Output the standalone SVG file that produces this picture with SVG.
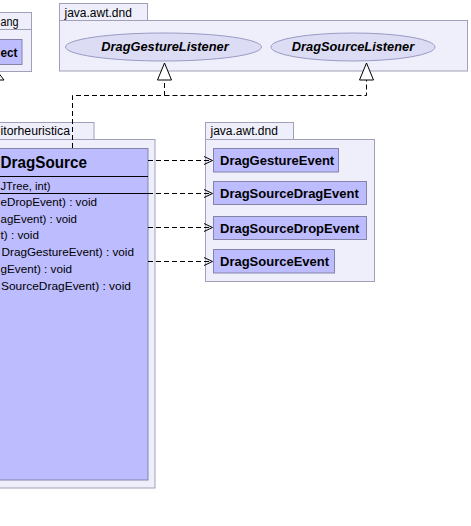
<svg xmlns="http://www.w3.org/2000/svg" width="471" height="526" viewBox="0 0 471 526">
<style>
.pkg{fill:#efeffc;stroke:#a0a0b8;stroke-width:1}
.cls{fill:#bcbcff;stroke:#8484a8;stroke-width:1}
.ell{fill:#dcdcf4;stroke:#9a9ac4;stroke-width:1}
.ptxt{font-family:"Liberation Sans",Arial,sans-serif;font-size:12px;fill:#000}
.ctxt{font-family:"Liberation Sans",Arial,sans-serif;font-size:13px;font-weight:bold;fill:#000}
.itxt{font-family:"Liberation Sans",Arial,sans-serif;font-size:12.8px;font-weight:bold;font-style:italic;fill:#000}
.mtxt{font-family:"Liberation Sans",Arial,sans-serif;font-size:11.8px;fill:#000}
.dash{fill:none;stroke:#000;stroke-width:1;stroke-dasharray:5,3}
.head{fill:none;stroke:#000;stroke-width:1}
.tri{fill:#fff;stroke:#000;stroke-width:1}
</style>
<rect width="471" height="526" fill="#fff"/>

<g id="pkg-java-lang">
<rect class="pkg" x="-5" y="12.5" width="36.5" height="17"/>
<rect class="pkg" x="-5" y="29.5" width="36.5" height="42"/>
<text class="ptxt" x="0.5" y="26" textLength="18" lengthAdjust="spacingAndGlyphs">ang</text>
</g>
<g id="Object">
<rect class="cls" x="-5" y="39.5" width="27" height="25"/>
<text class="ctxt" x="0.5" y="56.5" textLength="17" lengthAdjust="spacingAndGlyphs">ect</text>
</g>

<g id="pkg-java-awt-dnd-top">
<rect class="pkg" x="59.5" y="3.5" width="88" height="17"/>
<rect class="pkg" x="59.5" y="20.5" width="408" height="50.5"/>
<text class="ptxt" x="64.5" y="17">java.awt.dnd</text>
</g>
<g id="DragGestureListener">
<ellipse class="ell" cx="163.5" cy="47" rx="98" ry="14"/>
<text class="itxt" x="165" y="51" text-anchor="middle">DragGestureListener</text>
</g>
<g id="DragSourceListener">
<ellipse class="ell" cx="353" cy="47" rx="82" ry="14"/>
<text class="itxt" x="353" y="51" text-anchor="middle">DragSourceListener</text>
</g>

<g id="pkg-editorheuristica">
<rect class="pkg" x="-5" y="122.5" width="99" height="17"/>
<rect class="pkg" x="-5" y="139.5" width="160" height="348.5"/>
<text class="ptxt" x="0.5" y="135" textLength="69.5" lengthAdjust="spacingAndGlyphs">itorheuristica</text>
</g>
<g id="DragSource">
<rect class="cls" x="-5" y="148.5" width="153" height="331.5"/>
<text class="ctxt" style="font-size:15.6px" x="0.5" y="168" textLength="86.5" lengthAdjust="spacingAndGlyphs">DragSource</text>
<line x1="-5" y1="176.5" x2="148" y2="176.5" stroke="#000"/>
<text class="mtxt" x="0.5" y="190" textLength="50" lengthAdjust="spacingAndGlyphs">JTree, int)</text>
<line x1="-5" y1="193.5" x2="148" y2="193.5" stroke="#000"/>
<text class="mtxt" x="0.5" y="206" textLength="96.5" lengthAdjust="spacingAndGlyphs">eDropEvent) : void</text>
<text class="mtxt" x="0.5" y="223" textLength="76.5" lengthAdjust="spacingAndGlyphs">agEvent) : void</text>
<text class="mtxt" x="0.5" y="239" textLength="38.5" lengthAdjust="spacingAndGlyphs">t) : void</text>
<text class="mtxt" x="1.5" y="256" textLength="132.5" lengthAdjust="spacingAndGlyphs">DragGestureEvent) : void</text>
<text class="mtxt" x="0.5" y="273" textLength="71.5" lengthAdjust="spacingAndGlyphs">gEvent) : void</text>
<text class="mtxt" x="1" y="290" textLength="130" lengthAdjust="spacingAndGlyphs">SourceDragEvent) : void</text>
</g>

<g id="pkg-java-awt-dnd-right">
<rect class="pkg" x="205.5" y="122.5" width="88" height="17"/>
<rect class="pkg" x="205.5" y="139.5" width="169" height="142"/>
<text class="ptxt" x="210.5" y="135">java.awt.dnd</text>
</g>
<g id="DragGestureEvent">
<rect class="cls" x="213.5" y="148.5" width="125" height="23.5"/>
<text class="ctxt" x="220" y="165">DragGestureEvent</text>
</g>
<g id="DragSourceDragEvent">
<rect class="cls" x="213.5" y="181.5" width="153" height="23"/>
<text class="ctxt" x="220" y="198">DragSourceDragEvent</text>
</g>
<g id="DragSourceDropEvent">
<rect class="cls" x="213.5" y="216.5" width="153" height="23"/>
<text class="ctxt" x="220" y="233">DragSourceDropEvent</text>
</g>
<g id="DragSourceEvent">
<rect class="cls" x="213.5" y="249.5" width="121" height="23.5"/>
<text class="ctxt" x="220" y="266">DragSourceEvent</text>
</g>

<g id="connectors">
<polyline class="dash" points="72.5,148 72.5,95.5 164.5,95.5 164.5,80"/>
<polyline class="dash" points="164.5,95.5 366.5,95.5 366.5,80"/>
<polygon class="tri" points="164.5,63 157.5,80 171.5,80"/>
<polygon class="tri" points="366.5,63 359.5,80 373.5,80"/>
<polygon class="tri" points="-3,71 -10,80 4,80"/>
<line class="dash" x1="148" y1="160.5" x2="212" y2="160.5"/>
<polyline class="head" points="204,156.5 212.5,160.5 204,164.5"/>
<line class="dash" x1="148" y1="193.5" x2="212" y2="193.5"/>
<polyline class="head" points="204,189.5 212.5,193.5 204,197.5"/>
<line class="dash" x1="148" y1="227.5" x2="212" y2="227.5"/>
<polyline class="head" points="204,223.5 212.5,227.5 204,231.5"/>
<line class="dash" x1="148" y1="261.5" x2="212" y2="261.5"/>
<polyline class="head" points="204,257.5 212.5,261.5 204,265.5"/>
</g>
</svg>
